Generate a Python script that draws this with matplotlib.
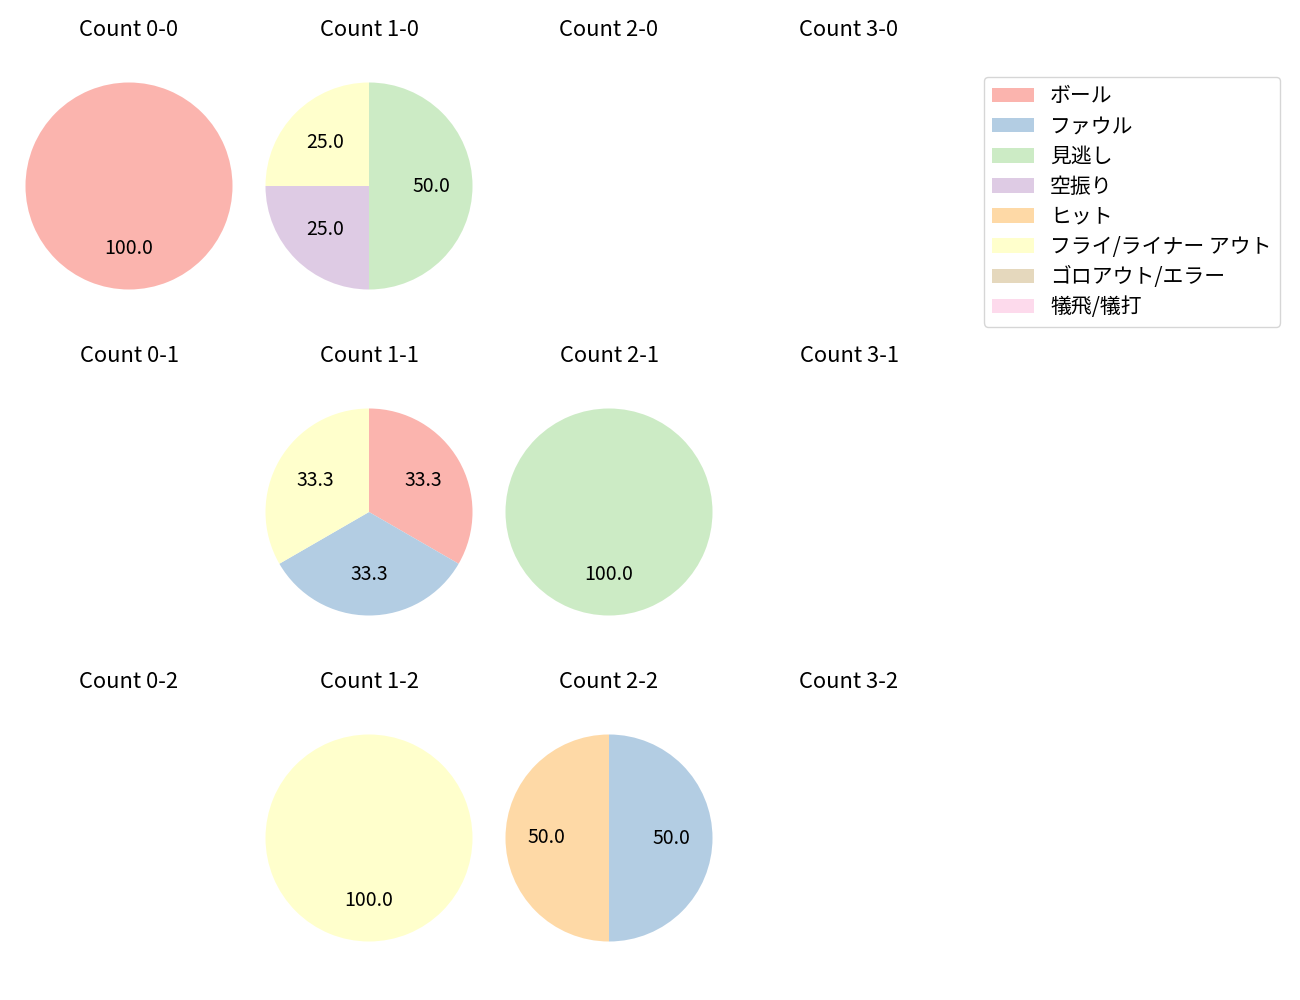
import matplotlib
matplotlib.use('Agg')
import matplotlib.pyplot as plt
from matplotlib.patches import Patch

plt.rcParams['font.family'] = ['Noto Sans CJK JP', 'DejaVu Sans']
plt.rcParams['font.size'] = 14

categories = ['ボール', 'ファウル', '見逃し', '空振り', 'ヒット',
              'フライ/ライナー アウト', 'ゴロアウト/エラー', '犠飛/犠打']
count_labels = ['0-0', '1-0', '2-0', '3-0',
                '0-1', '1-1', '2-1', '3-1',
                '0-2', '1-2', '2-2', '3-2']

count_0_0 = [1, 0, 0, 0, 0, 0, 0, 0]
count_1_0 = [0, 0, 2, 1, 0, 1, 0, 0]
count_2_0 = [0, 0, 0, 0, 0, 0, 0, 0]
count_3_0 = [0, 0, 0, 0, 0, 0, 0, 0]
count_0_1 = [0, 0, 0, 0, 0, 0, 0, 0]
count_1_1 = [1, 1, 0, 0, 0, 1, 0, 0]
count_2_1 = [0, 0, 1, 0, 0, 0, 0, 0]
count_3_1 = [0, 0, 0, 0, 0, 0, 0, 0]
count_0_2 = [0, 0, 0, 0, 0, 0, 0, 0]
count_1_2 = [0, 0, 0, 0, 0, 1, 0, 0]
count_2_2 = [0, 1, 0, 0, 1, 0, 0, 0]
count_3_2 = [0, 0, 0, 0, 0, 0, 0, 0]

all_counts = [count_0_0, count_1_0, count_2_0, count_3_0,
              count_0_1, count_1_1, count_2_1, count_3_1,
              count_0_2, count_1_2, count_2_2, count_3_2]

colors = list(plt.cm.Pastel1.colors[:8])

W, H = 1300, 1000
fig = plt.figure(figsize=(13, 10), dpi=100)

col_cx = [129, 369, 609, 849]
row_cy = [186, 512, 838]
radius_px = 103.5
S = 2 * 1.25 * radius_px

for i, (lab, vals) in enumerate(zip(count_labels, all_counts)):
    r, c = divmod(i, 4)
    cx, cy = col_cx[c], row_cy[r]
    ax = fig.add_axes([(cx - S / 2) / W, 1 - (cy + S / 2) / H, S / W, S / H])
    v = [x for x in vals if x > 0]
    cl = [colors[k] for k, x in enumerate(vals) if x > 0]
    if v:
        ax.pie(v, colors=cl, startangle=90, counterclock=False, autopct='%.1f')
    else:
        ax.set_xlim(-1.25, 1.25)
        ax.set_ylim(-1.25, 1.25)
    ax.axis('off')
    ax.set_title(f'Count {lab}', pad=15, fontsize=15.8)

handles = [Patch(facecolor=colors[k], label=categories[k]) for k in range(8)]
fs = 15
fig.legend(handles=handles, loc='upper right', fontsize=fs, labelspacing=0.39,
           bbox_to_anchor=((1280 + 0.5 * fs * 100 / 72) / W,
                           1 - (77 - 0.5 * fs * 100 / 72) / H))

fig.savefig('out.png', dpi=100)
